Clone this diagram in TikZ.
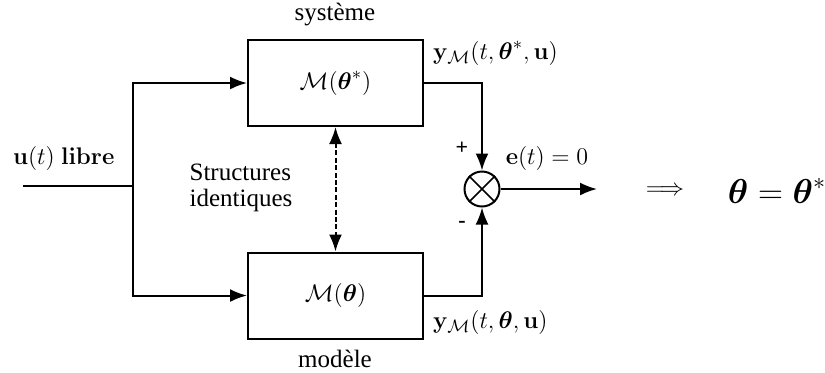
\documentclass[tikz,border=0pt]{standalone}
\usepackage{amsmath}
\usepackage[no-math]{fontspec}
\setmainfont{Liberation Serif}
\usetikzlibrary{arrows.meta}
\begin{document}
\begin{tikzpicture}[x=0.5pt,y=-0.5pt,
  line width=1pt,
  tip/.tip={Latex[length=8.5pt,width=6.5pt]},
  arr/.style={-tip},
  blk/.style={draw,minimum width=87.5pt,minimum height=43pt,inner sep=0pt,font=\fontsize{12.5}{15}\selectfont},
  lbl/.style={font=\fontsize{12.5}{14}\selectfont,inner sep=0pt},
  mlbl/.style={font=\fontsize{12.5}{14}\selectfont,inner sep=0pt}]
\useasboundingbox (0,0) rectangle (825,372);
\node[blk] (sys) at (335.5,83) {$\mathcal{M}(\boldsymbol{\theta}^{*})$};
\node[blk] (mod) at (335.5,295.5) {$\mathcal{M}(\boldsymbol{\theta})$};
\node[draw,circle,minimum size=17.5pt,inner sep=0pt] (sum) at (482,189) {};
\draw[line width=0.8pt] (sum.north west)--(sum.south east) (sum.north east)--(sum.south west);
\coordinate (in) at (23,186);
\coordinate (br) at (133,186);
\coordinate (out) at (597,189);
\draw (in) -- (br);
\draw[arr] (br) |- (sys.west);
\draw[arr] (br) |- (mod.west);
\draw[arr] (sys.east) -| (sum.north);
\draw[arr] (mod.east) -| (sum.south);
\draw[arr] (sum.east) -- (out);
\draw[dash pattern=on 2.5pt off 1.2pt,tip-tip] (sys.south) -- (mod.south |- mod.north);
\node[mlbl,anchor=west] (u) at (12,158) {$\mathbf{u}(t)\ \mathbf{libre}$};
\node[lbl,align=left] (st) at (241,188) {Structures\\[-1pt]identiques};
\node[lbl] (sy) at (335,14) {système};
\node[lbl] (mo) at (335,359) {modèle};
\node[mlbl,anchor=west] (ys) at (432,53) {$\mathbf{y}_{\mathcal{M}}(t,\boldsymbol{\theta}^{*},\mathbf{u})$};
\node[mlbl,anchor=west] (ym) at (432,322) {$\mathbf{y}_{\mathcal{M}}(t,\boldsymbol{\theta},\mathbf{u})$};
\node[mlbl] (e) at (547,158) {$\mathbf{e}(t)=0$};
\node[inner sep=0pt,font=\bfseries\fontsize{11}{12}\selectfont] (p) at (462,148) {+};
\node[inner sep=0pt,font=\bfseries\fontsize{11}{12}\selectfont] (m) at (462,224) {-};
\node[mlbl] (imp) at (665,191) {$\Longrightarrow$};
\node[font=\fontsize{16.5}{18}\selectfont,inner sep=0pt] (res) at (777,191) {$\boldsymbol{\theta}=\boldsymbol{\theta}^{*}$};
\end{tikzpicture}
\end{document}
